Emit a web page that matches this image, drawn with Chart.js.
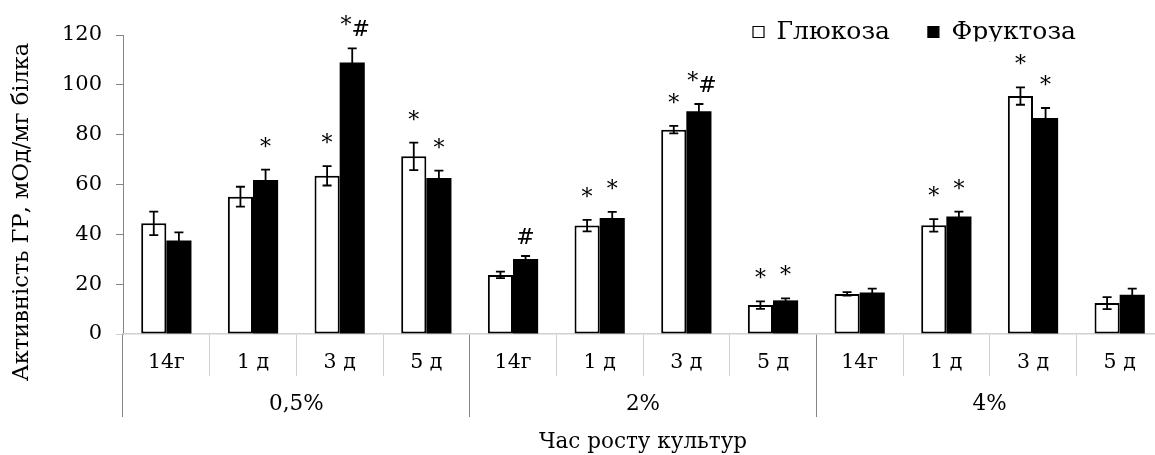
<!DOCTYPE html>
<html>
<head>
<meta charset="utf-8">
<script src="https://cdn.jsdelivr.net/npm/chart.js@4.4.1/dist/chart.umd.min.js"></script>
<style>
  html, body { margin: 0; padding: 0; background: #fff; overflow: hidden; }
  #wrap { width: 1163px; height: 455px; }
</style>
</head>
<body>
<div id="wrap"><canvas id="c" width="1163" height="455"></canvas></div>
<script>
// ---- data ----
const categories = ['14г', '1 д', '3 д', '5 д', '14г', '1 д', '3 д', '5 д', '14г', '1 д', '3 д', '5 д'];
const groups = ['0,5%', '2%', '4%'];
const yTicks = [0, 20, 40, 60, 80, 100, 120];
const seriesNames = ['Глюкоза', 'Фруктоза'];
const glucose = [44.4, 55.1, 63.5, 71.3, 23.7, 43.5, 82.0, 11.6, 16.1, 43.6, 95.5, 12.4];
const glucoseErr = [4.7, 4.0, 3.9, 5.5, 1.3, 2.3, 1.5, 1.5, 0.7, 2.5, 3.5, 2.4];
const fructose = [37.5, 61.8, 109.0, 62.6, 30.1, 46.6, 89.4, 13.5, 16.7, 47.2, 86.7, 15.8];
const fructoseErr = [3.3, 4.2, 5.6, 3.0, 1.2, 2.4, 2.9, 0.8, 1.5, 1.9, 4.0, 2.4];
const glucoseMarks = ['', '', '*', '*', '', '*', '*', '*', '', '*', '*', ''];
const fructoseMarks = ['', '*', '*#', '*', '#', '*', '*#', '*', '', '*', '*', ''];
const yTitle = 'Активність ГР, мОд/мг білка';
const xTitle = 'Час росту культур';

const FONT = "'DejaVu Serif', 'Liberation Serif', serif";
const AXIS_DARK = '#868686';
const AXIS_LIGHT = '#d0d0d0';
const perGroup = categories.length / groups.length;
const errors = [glucoseErr, fructoseErr];
const marks = [glucoseMarks, fructoseMarks];

const errorBarPlugin = {
  id: 'errorBars',
  afterDatasetsDraw(chart) {
    const ctx = chart.ctx;
    const y = chart.scales.y;
    ctx.save();
    chart.data.datasets.forEach((ds, di) => {
      const meta = chart.getDatasetMeta(di);
      meta.data.forEach((bar, i) => {
        const v = ds.data[i], e = errors[di][i];
        const x = bar.x;
        const yt = y.getPixelForValue(v + e);
        const yb = y.getPixelForValue(v - e);
        ctx.strokeStyle = '#000';
        ctx.lineWidth = 1.8;
        ctx.beginPath();
        ctx.moveTo(x, yt); ctx.lineTo(x, yb);
        ctx.moveTo(x - 4.5, yt); ctx.lineTo(x + 4.5, yt);
        ctx.moveTo(x - 4.5, yb); ctx.lineTo(x + 4.5, yb);
        ctx.stroke();
        const m = marks[di][i];
        if (m) {
          ctx.fillStyle = '#000';
          ctx.font = '22px ' + FONT;
          ctx.textAlign = 'left';
          ctx.textBaseline = 'alphabetic';
          const chars = m.split('');
          const total = chars.reduce((s, c) => s + ctx.measureText(c).width, 0);
          let cx = x + (chars.length > 1 ? 3 : 0) - total / 2;
          chars.forEach(c => {
            ctx.fillText(c, cx, yt - (c === '*' ? 16 : 12));
            cx += ctx.measureText(c).width;
          });
        }
      });
    });
    ctx.restore();
  }
};

const yTitlePlugin = {
  id: 'yTitle',
  afterDraw(chart) {
    const ctx = chart.ctx;
    ctx.save();
    ctx.translate(22, 212);
    ctx.rotate(-Math.PI / 2);
    ctx.font = '22.5px ' + FONT;
    ctx.fillStyle = '#000';
    ctx.textAlign = 'center';
    ctx.textBaseline = 'middle';
    ctx.fillText(yTitle, 0, 0);
    ctx.restore();
  }
};

const legendPlacePlugin = {
  id: 'legendPlace',
  beforeLayout(chart) {
    const lg = chart.legend;
    if (lg && !lg._patched) {
      const origFit = lg.fit;
      lg.fit = function () { origFit.call(this); this.height = 0; };
      lg._patched = true;
    }
  },
  afterLayout(chart) {
    const lg = chart.legend;
    if (!lg) return;
    const pad = lg.options.labels.padding;
    const w = lg.lineWidths ? lg.lineWidths[0] : 300;
    lg.top = 32 - pad - 12.5;
    lg.bottom = lg.top + 60;
    lg.left = 753 - pad;
    lg.right = lg.left + w + pad;
  }
};

new Chart(document.getElementById('c'), {
  type: 'bar',
  data: {
    labels: categories,
    datasets: [
      { label: seriesNames[0], data: glucose, backgroundColor: '#ffffff', borderColor: '#000000', borderWidth: 2, borderSkipped: false, xAxisID: 'x', yAxisID: 'y' },
      { label: seriesNames[1], data: fructose, backgroundColor: '#000000', borderColor: '#000000', borderWidth: 0, borderSkipped: false, xAxisID: 'x', yAxisID: 'y' }
    ]
  },
  plugins: [errorBarPlugin, yTitlePlugin, legendPlacePlugin],
  options: {
    responsive: false,
    animation: false,
    devicePixelRatio: 1,
    layout: { padding: { left: 0, right: 0, top: 35, bottom: 0 } },
    datasets: { bar: { categoryPercentage: 0.58, barPercentage: 1.0 } },
    plugins: {
      tooltip: { enabled: false },
      legend: {
        position: 'top',
        align: 'start',
        labels: {
          font: { family: FONT, size: 25 },
          color: '#000',
          boxWidth: 11,
          boxHeight: 11,
          padding: 38,
          generateLabels(chart) {
            return Chart.defaults.plugins.legend.labels.generateLabels(chart).map(l => Object.assign(l, { lineWidth: 1.2 }));
          }
        }
      }
    },
    scales: {
      y: {
        min: 0, max: 120,
        afterFit(scale) { scale.width = 123; },
        afterBuildTicks(scale) {
          const t = [];
          for (let v = 0; v <= 120; v += 10) t.push({ value: v });
          scale.ticks = t;
        },
        ticks: {
          font: { family: FONT, size: 21 },
          color: '#000',
          padding: 14,
          callback: (v) => (yTicks.includes(v) ? String(v) : '')
        },
        grid: {
          drawOnChartArea: false, drawTicks: true, tickLength: 7,
          color: (c) => (c.tick && c.tick.value === 0 ? AXIS_LIGHT : AXIS_DARK)
        },
        border: { display: true, color: AXIS_DARK, width: 1 }
      },
      x: {
        position: 'bottom',
        afterFit(scale) { scale.height = 42; },
        ticks: { font: { family: FONT, size: 20.5 }, color: '#000', padding: -25.6, maxRotation: 0, autoSkip: false },
        grid: {
          offset: true, drawOnChartArea: false, drawTicks: true, tickLength: 42,
          color: (c) => (c.index % perGroup === 0 ? AXIS_DARK : AXIS_LIGHT)
        },
        border: { display: true, color: AXIS_LIGHT, width: 1.5 }
      },
      x2: {
        type: 'category',
        position: 'bottom',
        labels: groups,
        offset: true,
        afterFit(scale) { scale.height = 79; },
        ticks: { font: { family: FONT, size: 21.5 }, color: '#000', padding: -25.9, maxRotation: 0, autoSkip: false },
        grid: { offset: true, drawOnChartArea: false, drawTicks: true, tickLength: 41, color: AXIS_DARK },
        border: { display: false },
        title: { display: true, text: xTitle, font: { family: FONT, size: 21.5 }, color: '#000', padding: { top: 0, bottom: 0 } }
      }
    }
  }
});
</script>
</body>
</html>
